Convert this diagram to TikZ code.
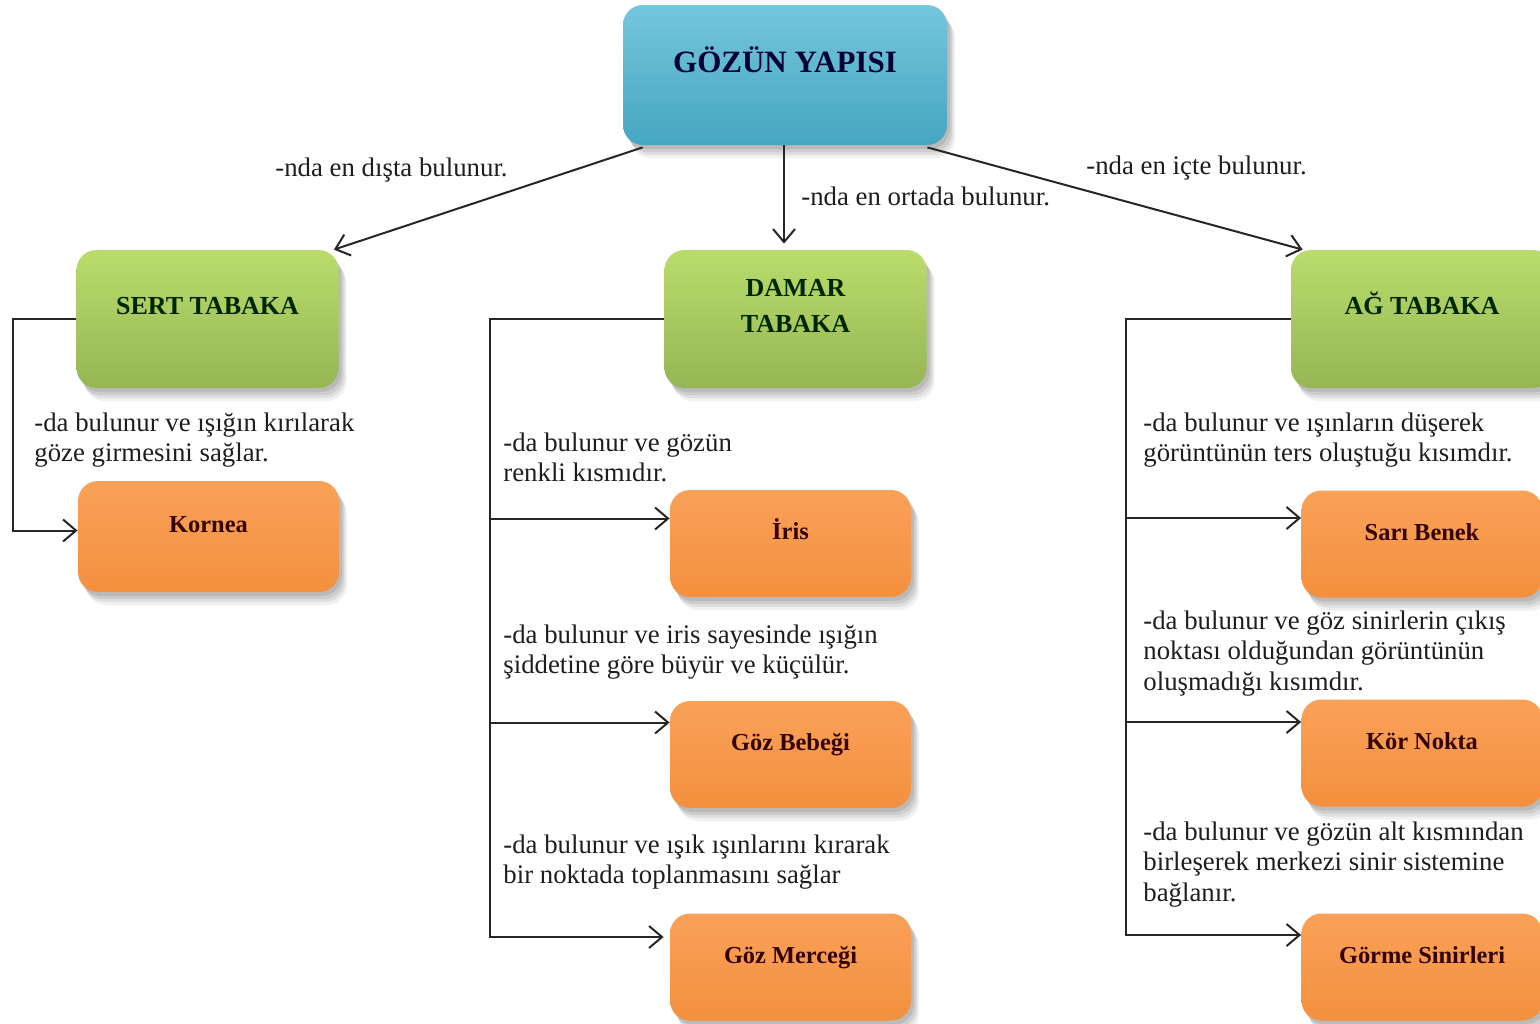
\documentclass[tikz,border=0pt]{standalone}
\usepackage{fontspec}
\setmainfont{Liberation Serif}
\usetikzlibrary{arrows.meta,shadows,calc}
\definecolor{blueA}{HTML}{4BACC6}
\definecolor{blueT}{HTML}{74C6DD}
\definecolor{blueB}{HTML}{46A6C0}
\definecolor{greenA}{HTML}{9BBB59}
\definecolor{greenT}{HTML}{BADC6C}
\definecolor{greenB}{HTML}{95B653}
\definecolor{orangeA}{HTML}{F79646}
\definecolor{orangeT}{HTML}{F9A158}
\definecolor{orangeB}{HTML}{F4903F}
\definecolor{ink}{HTML}{1E1E1E}
\begin{document}
\begin{tikzpicture}[x=0.5pt,y=-0.5pt,
  boxbase/.style={rounded corners=10pt, inner sep=0pt, align=center,
    drop shadow={shadow xshift=4pt,shadow yshift=-6.5pt,opacity=0.06,fill=black},
    drop shadow={shadow xshift=3.2pt,shadow yshift=-5pt,opacity=0.07,fill=black},
    drop shadow={shadow xshift=2.4pt,shadow yshift=-3.6pt,opacity=0.08,fill=black},
    drop shadow={shadow xshift=1.4pt,shadow yshift=-2pt,opacity=0.09,fill=black}},
  topbox/.style={boxbase, minimum width=162pt, minimum height=70pt,
    top color=blueT, middle color=blueA, bottom color=blueB,
    font=\bfseries\fontsize{15.5}{18}\selectfont, text=black!80!blue,
    text height=8pt, text depth=11pt},
  greenbox/.style={boxbase, minimum width=131pt, minimum height=69pt,
    top color=greenT, middle color=greenA, bottom color=greenB,
    font=\bfseries\fontsize{13}{18}\selectfont, text=black!85!green,
    text height=8pt, text depth=13pt},
  orangebox/.style={boxbase, minimum width=120.5pt, minimum height=53.5pt,
    top color=orangeT, middle color=orangeA, bottom color=orangeB,
    font=\bfseries\fontsize{12.2}{15}\selectfont, text=black!80!red,
    text height=8pt, text depth=12pt},
  lbl/.style={inner sep=0pt, align=left, text=ink,
    font=\fontsize{13.4}{15.4}\selectfont},
  conn/.style={draw=black!85, line width=1pt,
    -{Straight Barb[length=6.5pt,width=11pt,line width=1pt]}}]
\useasboundingbox (0,0) rectangle (1540,1023);
\clip (0,0) rectangle (1540,1023);
\fill[white] (0,0) rectangle (1540,1023);

% boxes
\node[topbox] (top) at (785,75) {GÖZÜN YAPISI};
\node[greenbox] (sert) at (207.5,319) {SERT TABAKA};
\node[greenbox, text height=27pt, text depth=14pt] (damar) at (795.5,319) {DAMAR\\TABAKA};
\node[greenbox] (ag) at (1422,319) {AĞ TABAKA};

\node[orangebox, minimum width=130.5pt, minimum height=55.5pt] (kornea) at (208.5,536.5) {Kornea};
\node[orangebox] (iris) at (790.5,543.5) {İris};
\node[orangebox] (bebek) at (790.5,754.5) {Göz Bebeği};
\node[orangebox] (mercek) at (790.5,967) {Göz Merceği};
\node[orangebox] (sari) at (1422,544) {Sarı Benek};
\node[orangebox] (kor) at (1422,753) {Kör Nokta};
\node[orangebox] (gorme) at (1422,967) {Görme Sinirleri};

% top connectors
\draw[conn] ($(top.south west)+(20,2)$) -- ($(sert.north east)+(-5,0)$);
\draw[conn] (top.south -| 784,0) -- ($(784,0 |- damar.north)+(0,-6)$);
\draw[conn] ($(top.south east)+(-20,2)$) -- ($(ag.north west)+(12,0)$);

\node[lbl, anchor=west] (l1) at (275,170) {-nda en dışta bulunur.};
\node[lbl, anchor=west] (l2) at (801,196) {-nda en ortada bulunur.};
\node[lbl, anchor=west] (l3) at (1086,168) {-nda en içte bulunur.};

% sert tabaka branch
\draw[conn] (sert.west) -- ++(-63,0) |- ($(kornea.west)+(0,-6)$);
\node[lbl, anchor=north west] (t1) at (34,412) {-da bulunur ve ışığın kırılarak\\göze girmesini sağlar.};

% damar tabaka branch
\coordinate (dx) at (490,0);
\coordinate (irisIn) at ($(iris.west)+(0,-25)$);
\coordinate (bebekIn) at ($(bebek.west)+(0,-32)$);
\coordinate (mercIn) at ($(mercek.west)+(-6,-30)$);
\draw[conn] (damar.west) -| (dx |- mercIn) -- (mercIn);
\draw[conn] (dx |- irisIn) -- (irisIn);
\draw[conn] (dx |- bebekIn) -- (bebekIn);
\node[lbl, anchor=north west] (t2) at (503,432) {-da bulunur ve gözün\\renkli kısmıdır.};
\node[lbl, anchor=north west] (t3) at (503,624) {-da bulunur ve iris sayesinde ışığın\\şiddetine göre büyür ve küçülür.};
\node[lbl, anchor=north west] (t4) at (503,834) {-da bulunur ve ışık ışınlarını kırarak\\bir noktada toplanmasını sağlar};

% ag tabaka branch
\coordinate (ax) at (1126,0);
\coordinate (sariIn) at ($(sari.west)+(0,-26)$);
\coordinate (korIn) at ($(kor.west)+(0,-31)$);
\coordinate (gormeIn) at ($(gorme.west)+(0,-32)$);
\draw[conn] (ag.west) -| (ax |- gormeIn) -- (gormeIn);
\draw[conn] (ax |- sariIn) -- (sariIn);
\draw[conn] (ax |- korIn) -- (korIn);
\node[lbl, anchor=north west] (t5) at (1143,412) {-da bulunur ve ışınların düşerek\\görüntünün ters oluştuğu kısımdır.};
\node[lbl, anchor=north west] (t6) at (1143,610) {-da bulunur ve göz sinirlerin çıkış\\noktası olduğundan görüntünün\\oluşmadığı kısımdır.};
\node[lbl, anchor=north west] (t7) at (1143,821) {-da bulunur ve gözün alt kısmından\\birleşerek merkezi sinir sistemine\\bağlanır.};
\end{tikzpicture}
\end{document}
